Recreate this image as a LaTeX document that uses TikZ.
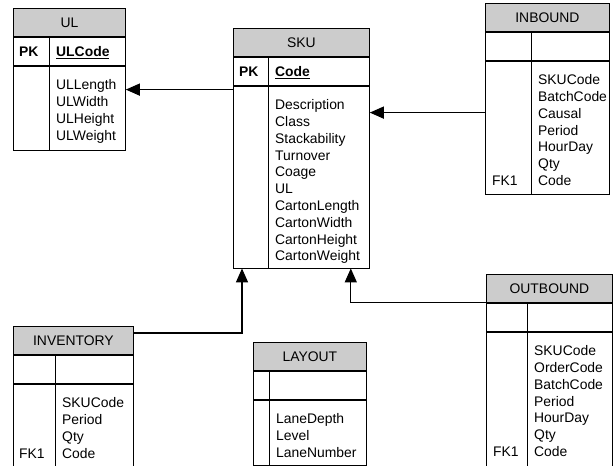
\documentclass[tikz,border=0pt]{standalone}
\usepackage{fontspec}
\setmainfont{Liberation Sans}
\usepackage{tikz}
\usetikzlibrary{arrows.meta,positioning,calc}
\newcommand{\erfont}{\fontsize{13.9pt}{16.8pt}\selectfont}

\begin{document}
\begin{tikzpicture}[x=1pt,y=-1pt,every node/.style={font=\erfont}]
\tikzstyle{ttl}=[draw,line width=0.8pt,fill=black!20,inner sep=0pt,minimum height=28pt,anchor=north west]
\tikzstyle{keyrow}=[draw,line width=0.8pt,inner sep=0pt,minimum height=28pt]
\tikzstyle{bodyrow}=[draw,line width=0.8pt,inner sep=0pt]
\tikzstyle{sep}=[line width=0.8pt]
\tikzstyle{fld}=[inner sep=0pt,anchor=base west]
\tikzstyle{conn}=[-{Triangle[length=14pt,width=12pt]},line width=1.3pt]
\useasboundingbox (0,0) rectangle (616,466);
\clip (0,0) rectangle (616,466);

% UL
\node[ttl,minimum width=112pt] (ul) at (13,8) {UL};
\node[keyrow,minimum width=112pt,below=0pt of ul] (ulk) {};
\node[bodyrow,minimum width=112pt,minimum height=84pt,below=0pt of ulk] (ulb) {};
\draw[sep] ($(ulk.north west)+(36,0)$) -- ($(ulb.south west)+(36,0)$);
\node[fld] (ulpk) at ($(ulk.west)+(6,5)$) {\textbf{PK}};
\node[fld] (ulkey) at ($(ulk.west)+(43,5)$) {\textbf{\underline{ULCode}}};
\foreach \f [count=\i] in {ULLength,ULWidth,ULHeight,ULWeight}
  \node[fld] (ulf\i) at ($(ulb.north west)+(43,7.2+16.8*\i)$) {\f};

% SKU
\node[ttl,minimum width=136pt] (sku) at (233,28) {SKU};
\node[keyrow,minimum width=136pt,below=0pt of sku] (skuk) {};
\node[bodyrow,minimum width=136pt,minimum height=182pt,below=0pt of skuk] (skub) {};
\draw[sep] ($(skuk.north west)+(35,0)$) -- ($(skub.south west)+(35,0)$);
\node[fld] (skupk) at ($(skuk.west)+(6,5)$) {\textbf{PK}};
\node[fld] (skukey) at ($(skuk.west)+(42,5)$) {\textbf{\underline{Code}}};
\foreach \f [count=\i] in {Description,Class,Stackability,Turnover,Coage,UL,CartonLength,CartonWidth,CartonHeight,CartonWeight}
  \node[fld] (skuf\i) at ($(skub.north west)+(42,7.2+16.8*\i)$) {\f};

% INBOUND
\node[ttl,minimum width=124pt] (inb) at (485,3) {INBOUND};
\node[keyrow,minimum width=124pt,below=0pt of inb] (inbk) {};
\node[bodyrow,minimum width=124pt,minimum height=133pt,below=0pt of inbk] (inbb) {};
\draw[sep] ($(inbk.north west)+(46,0)$) -- ($(inbb.south west)+(46,0)$);
\foreach \f [count=\i] in {SKUCode,BatchCode,Causal,Period,HourDay,Qty,Code}
  \node[fld] (inbf\i) at ($(inbb.north west)+(53,7.2+16.8*\i)$) {\f};
\node[fld] (inbfk) at ($(inbb.north west)+(7,7.2+16.8*7)$) {FK1};

% INVENTORY
\node[ttl,minimum width=120pt] (inv) at (13,326) {INVENTORY};
\node[keyrow,minimum width=120pt,below=0pt of inv] (invk) {};
\node[bodyrow,minimum width=120pt,minimum height=100pt,below=0pt of invk] (invb) {};
\draw[sep] ($(invk.north west)+(42,0)$) -- ($(invb.south west)+(42,0)$);
\foreach \f [count=\i] in {SKUCode,Period,Qty,Code}
  \node[fld] (invf\i) at ($(invb.north west)+(49,7.2+16.8*\i)$) {\f};
\node[fld] (invfk) at ($(invb.north west)+(6,7.2+16.8*4)$) {FK1};

% LAYOUT
\node[ttl,minimum width=113pt] (lay) at (253,342) {LAYOUT};
\node[keyrow,minimum width=113pt,below=0pt of lay] (layk) {};
\node[bodyrow,minimum width=113pt,minimum height=65pt,below=0pt of layk] (layb) {};
\draw[sep] ($(layk.north west)+(16,0)$) -- ($(layb.south west)+(16,0)$);
\foreach \f [count=\i] in {LaneDepth,Level,LaneNumber}
  \node[fld] (layf\i) at ($(layb.north west)+(23,7.2+16.8*\i)$) {\f};

% OUTBOUND
\node[ttl,minimum width=126pt] (out) at (486,274) {OUTBOUND};
\node[keyrow,minimum width=126pt,below=0pt of out] (outk) {};
\node[bodyrow,minimum width=126pt,minimum height=156pt,below=0pt of outk] (outb) {};
\draw[sep] ($(outk.north west)+(41,0)$) -- ($(outb.south west)+(41,0)$);
\foreach \f [count=\i] in {SKUCode,OrderCode,BatchCode,Period,HourDay,Qty,Code}
  \node[fld] (outf\i) at ($(outb.north west)+(48,7.2+16.8*\i)$) {\f};
\node[fld] (outfk) at ($(outb.north west)+(7,7.2+16.8*7)$) {FK1};

% relations
\draw[conn] ([yshift=-4pt]skub.north west) -- ([yshift=-4pt]skub.north west -| ulb.east);
\draw[conn] ([yshift=-52pt]inbb.north west) -- ([yshift=-52pt]inbb.north west -| skub.east);
\draw[conn] ([yshift=-7pt]inv.north east) -| ([xshift=9pt]skub.south west);
\draw[conn] (outk.north west) -| ([xshift=-19pt]skub.south east);
\end{tikzpicture}
\end{document}
